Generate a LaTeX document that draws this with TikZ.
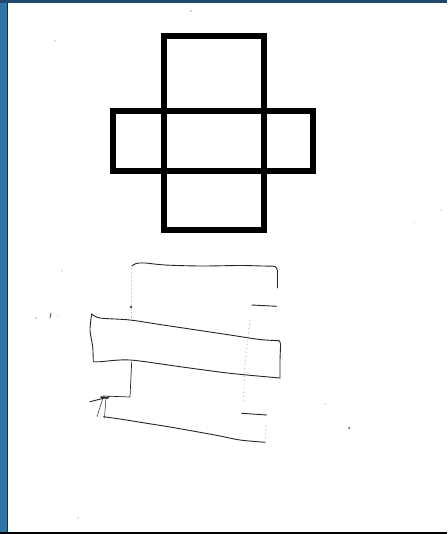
\documentclass[tikz,border=0pt]{standalone}
\definecolor{framel}{RGB}{46,116,164}
\definecolor{framedk}{RGB}{20,45,70}
\definecolor{framet}{RGB}{30,72,108}
\begin{document}
\begin{tikzpicture}[x=1pt,y=-1pt,
  bold/.style={line width=6pt,draw=black},
  pen/.style={line width=0.9pt,draw=black!85,line cap=round,line join=round},
  faint/.style={line width=0.6pt,draw=black!30,dash pattern=on 1.5pt off 2.5pt},
  speck/.style={fill=black!70}]
\useasboundingbox (0,0) rectangle (447,534);
\fill[white] (0,0) rectangle (447,534);
% frame
\fill[framel] (0,0) rectangle (7,534);
\fill[framedk] (6.5,0) rectangle (8,534);
\fill[framet] (0,0) rectangle (447,3);
\fill[black] (0,532) rectangle (447,534);
% bold cross
\draw[bold] (164,35.7) rectangle (263.5,229.5);
\draw[bold] (113,110.7) rectangle (313,171);
% hand drawn sketch: upper part
\draw[pen] plot[smooth] coordinates {(132,266) (136,263.5) (145,263) (165,265) (200,266) (240,265.5) (262,266) (275,266.5) (277,270)};
\draw[pen] (277,270) -- (277,288);
\draw[pen] (251.7,305) -- (276.7,306.3);
\draw[faint] (131.7,268) -- (131.5,318);
\fill[speck] (131,307) circle (1.3);
% middle band
\draw[pen] plot[smooth] coordinates {(91.7,314) (100,318) (130,320) (163,325) (196.7,330) (230,335) (260,339.5) (279,340.7)};
\draw[pen] plot[smooth] coordinates {(279,340.7) (280.5,344) (280,360) (280,378)};
\draw[pen] plot[smooth] coordinates {(280,378) (230,373.3) (180,366.7) (130,360) (100,361.7) (93.3,361.7)};
\draw[pen] plot[smooth] coordinates {(91.7,314) (90,330) (92.7,346.7) (93.3,361.7)};
% lower part
\draw[pen,line width=0.7pt] (131.7,362) -- (130,397) -- (103.3,396);
\draw[pen] (90,401.7) -- (110,396.7);
\draw[pen,line width=1.6pt] (101,397) -- (108,398);
\draw[pen,line width=0.5pt] (103,398) -- (97,416.7);
\draw[pen,line width=0.5pt] (106,398) -- (104.5,418);
\draw[pen] plot[smooth] coordinates {(103.3,416.7) (120,419) (146.7,423.3) (170,427) (196.7,431.7) (220,436) (240,440) (265,442.3)};
\draw[faint] (265,442.3) -- (266.5,423);
\draw[pen] (241.7,413.3) -- (266.7,415);
\draw[faint] (250,320) -- (245,363) -- (243.3,403);
% stray specks
\fill[speck] (191,11) circle (0.7);
\fill[speck] (55,41) circle (0.5);
\fill[speck] (36,318) circle (0.7);
\draw[black!70,line width=0.8pt] (51,313) -- (50,318);
\fill[black!40] (58,316) circle (0.5);
\fill[speck] (349,428) circle (1);
\fill[black!30] (325,404) circle (0.6);
\fill[black!30] (441,210) circle (0.7);
\fill[black!30] (414,222) circle (0.5);
\fill[black!30] (369,216) circle (0.5);
\fill[black!40] (78,518) circle (0.6);
\fill[black!40] (62,271) circle (0.6);
\end{tikzpicture}
\end{document}
